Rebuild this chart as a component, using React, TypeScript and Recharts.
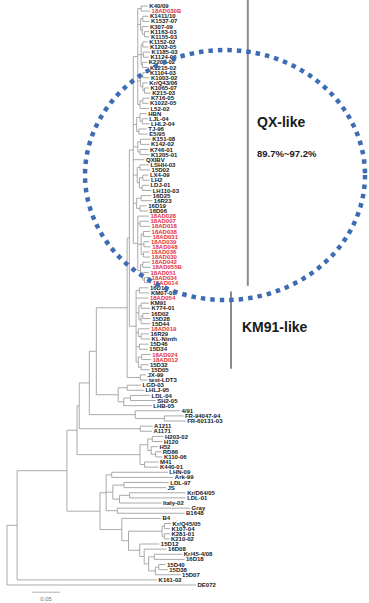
import { ComposedChart, Line, Scatter, XAxis, YAxis, ReferenceLine } from "recharts";

// clade topologies (newick, branch lengths in substitutions/site)
const qxClade =
  "(((K40/09:0.012,18AD030B:0.016):0.006,((K1411/10:0.010,K1537-07:0.012):0.004,(K307-09:0.011,(K1163-03:0.008,K1155-03:0.009):0.004):0.003):0.005,((K1152-02:0.009,K1202-05:0.010):0.003,(K1185-03:0.012,K1124-06:0.010):0.004,(K2203-02:0.009,K1215-02:0.011):0.002):0.006,((K1104-03:0.010,K1003-02:0.012):0.004,(Kr/Q43/06:0.009,(K1065-07:0.008,K215-03:0.011):0.003):0.004):0.005,((K716-05:0.012,K1022-05:0.010):0.005,L52-02:0.016):0.004):0.008,((HBN:0.012,(LJL-04:0.010,LHL2-04:0.013):0.004):0.006,(TJ-96:0.014,E5/95:0.016):0.004):0.006,((K151-08:0.018,K142-02:0.016):0.005,(K746-01:0.015,K1205-01:0.017):0.004):0.008,QXIBV:0.020,((LSHH-03:0.016,15D02:0.018):0.005,((LX4-09:0.010,LH2:0.012):0.006,(LDJ-01:0.012,LH110-03:0.016):0.005):0.004):0.007,((16D25:0.018,16R23:0.020):0.008,(16D19:0.012,16D06:0.014):0.006):0.006,(18AD028:0.020,(18AD007:0.016,18AD018:0.018):0.004,((18AD038:0.012,18AD031:0.014):0.004,(18AD039:0.010,18AD048:0.012):0.005,(18AD036:0.011,18AD030:0.012):0.004):0.006,((18AD042:0.013,18AD055B:0.014):0.004,(18AD051:0.011,(18AD034:0.010,18AD014:0.012):0.003):0.004):0.005):0.008)";
const km91Clade =
  "((16D14:0.016,KM07-01:0.018):0.006,18AD054:0.022,((KM91:0.014,K774-01:0.016):0.004,((16D02:0.012,15D28:0.014):0.003,15D44:0.016):0.004):0.005,(18AD019:0.020,(16R29:0.014,KL-Ninth:0.016):0.005):0.004,(15D46:0.016,15D34:0.015):0.006,((18AD024:0.016,18AD012:0.017):0.006,(15D32:0.013,15D05:0.015):0.005):0.004)";
const jxClade = "(JX-99:0.010,test-LDT3:0.013)";
const shClade = "((LGD-03:0.025,LHLJ-95:0.03):0.016,((LDL-04:0.035,SH2-05:0.045):0.012,LHB-05:0.05):0.01)";
const frClade = "(4/91:0.08,(FR-94047-94:0.034,FR-60131-03:0.038):0.052)";
const aClade = "(A1211:0.022,A1171:0.021)";
const massClade =
  "(((H203-02:0.02,H120:0.018):0.008,(H52:0.012,(RD86:0.01,K110-06:0.012):0.008):0.006):0.014,(M41:0.025,K440-01:0.025):0.008)";
const arkClade =
  "((LHN-09:0.1,Ark-99:0.11):0.01,((LDL-97:0.08,JS:0.075):0.02,((Kr/D64/05:0.1,LDL-01:0.1):0.018,Italy-02:0.075):0.012):0.012,(Gray:0.13,B1648:0.12):0.02)";
const krClade =
  "(B4:0.07,(((Kr/Q45/05:0.012,K107-04:0.010):0.004,(K281-01:0.010,K210-02:0.009):0.004):0.06,(15D12:0.035,(16D08:0.04,((Kr/45-4/08:0.05,16D18:0.054):0.01,((15D40:0.012,15D38:0.016):0.006,15D07:0.045):0.012):0.008):0.008):0.02):0.012)";

const treeNewick = `(((((((((${qxClade}:0.007,${km91Clade}:0.012):0.004,${jxClade}:0.0235):0.055,${shClade}:0.039):0.0125,${frClade}:0.082):0.018,${aClade}:0.109):0.004,${massClade}:0.1125):0.018,(${arkClade}:0.011,${krClade}:0.039):0.059):0.089,K161-02:0.25):0.018,DE072:0.3375);`;

const redLeaves = [
  "18AD030B", "18AD028", "18AD007", "18AD018", "18AD038", "18AD031", "18AD039", "18AD048",
  "18AD036", "18AD030", "18AD042", "18AD055B", "18AD051", "18AD034", "18AD014",
  "18AD054", "18AD019", "18AD024", "18AD012",
];

const scaleBarLength = 0.05;

type TreeNode = { name: string; len: number; children: TreeNode[]; depth: number; y: number };
type Pt = { x: number; y: number | null };

function parseNewick(src: string): TreeNode {
  const s = src.replace(/\s+/g, "").replace(/;$/, "");
  let i = 0;
  const read = (): TreeNode => {
    const node: TreeNode = { name: "", len: 0, children: [], depth: 0, y: 0 };
    if (s[i] === "(") {
      i++;
      node.children.push(read());
      while (s[i] === ",") {
        i++;
        node.children.push(read());
      }
      i++;
    }
    let name = "";
    while (i < s.length && !",():".includes(s[i])) name += s[i++];
    node.name = name;
    if (s[i] === ":") {
      i++;
      let num = "";
      while (i < s.length && !",()".includes(s[i])) num += s[i++];
      node.len = parseFloat(num);
    }
    return node;
  };
  return read();
}

const root = parseNewick(treeNewick);
const tips: { x: number; y: number; name: string; red: boolean }[] = [];
const segments: [Pt, Pt][] = [];

function layout(node: TreeNode, parentDepth: number) {
  node.depth = parentDepth + node.len;
  if (!node.children.length) {
    node.y = tips.length;
    tips.push({ x: node.depth, y: node.y, name: node.name, red: redLeaves.includes(node.name) });
    return;
  }
  node.children.forEach((c) => layout(c, node.depth));
  const first = node.children[0];
  const last = node.children[node.children.length - 1];
  node.y = (first.y + last.y) / 2;
  segments.push([{ x: node.depth, y: first.y }, { x: node.depth, y: last.y }]);
  node.children.forEach((c) => segments.push([{ x: node.depth, y: c.y }, { x: c.depth, y: c.y }]));
}
layout(root, 0);

const branchPoints: Pt[] = segments.flatMap(([a, b]) => [a, b, { x: b.x, y: null }]);

const W = 369;
const H = 603;
const PX_PER_UNIT = 560;
const ROOT_X = 7;
const TOP_Y = 6;
const BOTTOM_Y = 585;
const step = (BOTTOM_Y - TOP_Y) / (tips.length - 1);
const xDomain = [-ROOT_X / PX_PER_UNIT, (W - ROOT_X) / PX_PER_UNIT];
const yDomain = [-TOP_Y / step, (H - TOP_Y) / step];

const qxRange = [0, tips.findIndex((t) => t.name === "18AD014")];
const kmRange = [tips.findIndex((t) => t.name === "16D14"), tips.findIndex((t) => t.name === "15D05")];

const FONT = "'Liberation Sans', Arial, sans-serif";

const LeafLabel = (props: any) => {
  const { cx, cy, payload } = props;
  return (
    <text
      x={cx + 1.5}
      y={cy}
      dy={2.1}
      fontSize={6}
      fontWeight={700}
      fontFamily={FONT}
      fill={payload.red ? "#e2333d" : "#1a1a1a"}
    >
      {payload.name}
    </text>
  );
};

export default function App() {
  return (
    <div style={{ position: "absolute", left: 0, top: 0, width: W, height: H, background: "#fff" }}>
      <ComposedChart width={W} height={H} margin={{ top: 0, right: 0, bottom: 0, left: 0 }}>
        <XAxis type="number" dataKey="x" domain={xDomain} hide allowDataOverflow />
        <YAxis type="number" dataKey="y" domain={yDomain} reversed hide allowDataOverflow />
        <Line
          data={branchPoints}
          dataKey="y"
          stroke="#a0a0a0"
          strokeWidth={0.9}
          dot={false}
          activeDot={false}
          connectNulls={false}
          isAnimationActive={false}
        />
        <Scatter data={tips} shape={LeafLabel} isAnimationActive={false} />
        <ReferenceLine
          segment={[{ x: 0.43, y: qxRange[0] - 1.3 }, { x: 0.43, y: qxRange[1] + 0.6 }]}
          stroke="#8a8a8a"
          strokeWidth={2}
          ifOverflow="visible"
        />
        <ReferenceLine
          segment={[{ x: 0.4, y: kmRange[0] + 0.7 }, { x: 0.4, y: kmRange[1] - 0.2 }]}
          stroke="#8a8a8a"
          strokeWidth={2}
          ifOverflow="visible"
        />
        <ReferenceLine
          segment={[{ x: 0.045, y: tips.length + 0.4 }, { x: 0.045 + scaleBarLength, y: tips.length + 0.4 }]}
          stroke="#9a9a9a"
          strokeWidth={0.8}
          ifOverflow="visible"
        />
      </ComposedChart>
      <svg width={W} height={H} style={{ position: "absolute", left: 0, top: 0, pointerEvents: "none" }}>
        <ellipse cx={225} cy={175} rx={140} ry={125} fill="none" stroke="#3d6cb3" strokeWidth={4.5} strokeDasharray="4.5 5" />
        <text x={257} y={127} fontSize={14} fontWeight={700} fontFamily={FONT} fill="#1a1a1a">
          QX-like
        </text>
        <text x={257} y={157} fontSize={9.5} fontWeight={700} fontFamily={FONT} fill="#1a1a1a">
          89.7%~97.2%
        </text>
        <text x={242} y={332} fontSize={14} fontWeight={700} fontFamily={FONT} fill="#1a1a1a">
          KM91-like
        </text>
        <text x={46} y={601} fontSize={6} textAnchor="middle" fontFamily={FONT} fill="#777">
          0.05
        </text>
      </svg>
    </div>
  );
}
